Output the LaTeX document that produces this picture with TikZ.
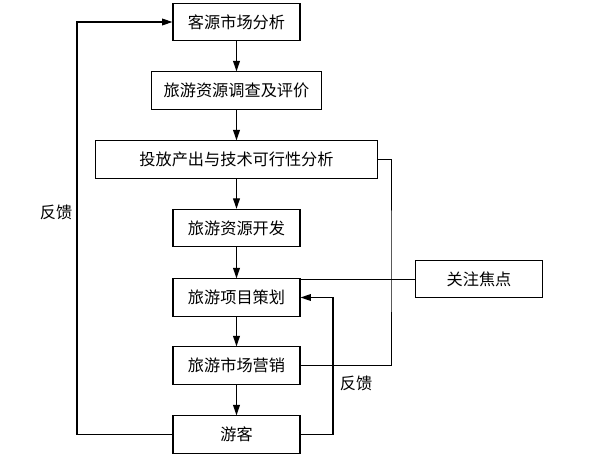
\documentclass[tikz,border=0pt]{standalone}
\usepackage{fontspec}
\setmainfont{Noto Sans CJK SC}
\usepackage{tikz}
\usetikzlibrary{arrows.meta,positioning,calc}

\begin{document}
\begin{tikzpicture}[
  x=0.025cm,y=-0.025cm,
  every node/.style={font=\fontsize{11.5}{14}\selectfont},
  box/.style={draw,line width=0.8pt,minimum width=3.175cm,minimum height=0.93cm,
              inner sep=0pt,align=center},
  wbox/.style={box,minimum width=4.25cm},
  xbox/.style={box,minimum width=7.05cm},
  arr/.style={line width=0.8pt,-{Triangle[length=2.6mm,width=1.7mm]}},
  ln/.style={line width=0.7pt},
]
\useasboundingbox (0,0) rectangle (599,461);

%% Main chain
\node[box]  (sc)  at (236.5,22)    {客源市场分析};
\node[wbox] (dc)  at (236.5,90.5)  {旅游资源调查及评价};
\node[xbox] (fx)  at (236.5,159.5) {投放产出与技术可行性分析};
\node[box]  (kf)  at (236.5,228)   {旅游资源开发};
\node[box]  (ch)  at (236.5,297.5) {旅游项目策划};
\node[box]  (yx)  at (236.5,365.5) {旅游市场营销};
\node[box]  (yk)  at (236.5,434.5) {游客};

%% Side box
\node[box] (gz) at (479,279) {关注焦点};

%% Arrows down the chain
\draw[arr] (sc) -- (dc);
\draw[arr] (dc) -- (fx);
\draw[arr] (fx) -- (kf);
\draw[arr] (kf) -- (ch);
\draw[arr] (ch) -- (yx);
\draw[arr] (yx) -- (yk);

%% Outer feedback loop
\coordinate (fbl) at (77,300);
\draw[arr] (yk.west) -| (fbl) |- (sc.west);
\node (fbltxt) at (56,212) {反馈};

%% Inner feedback loop
\coordinate (fbr) at (333,360);
\draw[arr] (yk.east) -| (fbr) |- (ch.east);
\node (fbrtxt) at (356,383) {反馈};

%% Line from feasibility to marketing
\coordinate (rc) at (391,260);
\draw[ln] (fx.east) -| (rc) |- (yx.east);

%% Focus line
\draw[ln] (gz.west) -- (gz.west -| ch.east);

\end{tikzpicture}
\end{document}
